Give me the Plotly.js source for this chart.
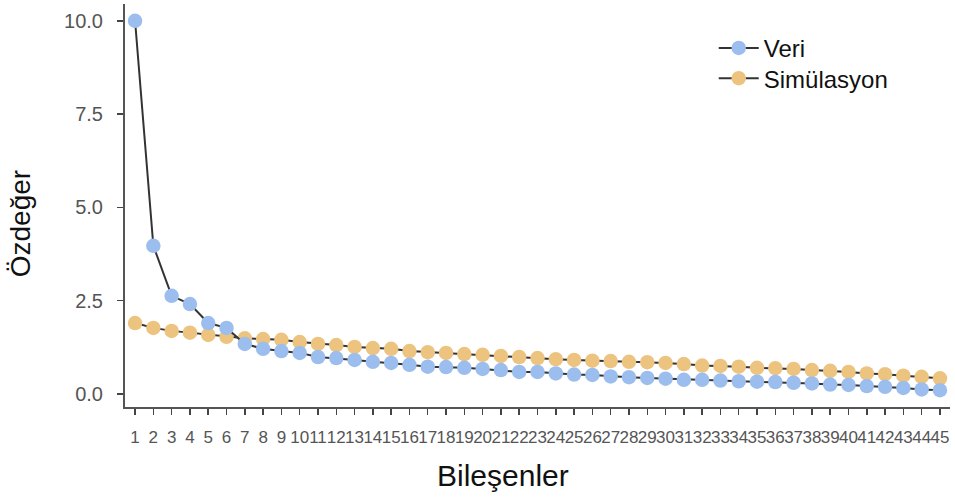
<!DOCTYPE html>
<html>
<head>
<meta charset="utf-8">
<script src="https://cdn.plot.ly/plotly-3.0.1.min.js"></script>
<style>html,body{margin:0;padding:0;background:#fff;}#chart{width:955px;height:497px;}</style>
</head>
<body>
<div id="chart"></div>
<script>
var components = [1,2,3,4,5,6,7,8,9,10,11,12,13,14,15,16,17,18,19,20,21,22,23,24,25,26,27,28,29,30,31,32,33,34,35,36,37,38,39,40,41,42,43,44,45];
var veri = [10.0,3.97,2.63,2.41,1.90,1.77,1.34,1.21,1.15,1.10,0.99,0.96,0.91,0.86,0.83,0.78,0.73,0.72,0.70,0.67,0.64,0.59,0.59,0.55,0.52,0.51,0.47,0.45,0.43,0.41,0.38,0.38,0.36,0.34,0.33,0.32,0.30,0.28,0.25,0.24,0.21,0.19,0.16,0.12,0.10];
var simulasyon = [1.90,1.77,1.69,1.64,1.58,1.53,1.49,1.47,1.45,1.39,1.34,1.31,1.26,1.23,1.21,1.15,1.12,1.10,1.07,1.05,1.02,0.99,0.96,0.93,0.91,0.89,0.88,0.86,0.85,0.83,0.80,0.76,0.75,0.73,0.70,0.69,0.67,0.64,0.62,0.59,0.55,0.53,0.49,0.46,0.42];
var seriesNames = ["Veri", "Simülasyon"];
var axisTitles = ["Bileşenler", "Özdeğer"];

var font = "Liberation Sans, Arial, sans-serif";
var traces = [
  {x: components, y: simulasyon, name: seriesNames[1], type: "scatter", mode: "lines+markers", legend: "legend2",
   line: {color: "#333333", width: 2}, marker: {color: "rgb(236,196,128)", size: 14.5}},
  {x: components, y: veri, name: seriesNames[0], type: "scatter", mode: "lines+markers", legend: "legend",
   line: {color: "#333333", width: 2}, marker: {color: "rgb(156,190,238)", size: 14.5}}
];
var legendFont = {size: 24, color: "#111", family: font};
var layout = {
  width: 955, height: 497,
  margin: {l: 125, r: 5, t: 4, b: 90},
  paper_bgcolor: "#fff", plot_bgcolor: "#fff",
  font: {family: font, color: "#555"},
  showlegend: true,
  legend: {x: 0.7136, y: 0.890, xanchor: "left", yanchor: "middle", itemwidth: 40,
           bgcolor: "rgba(0,0,0,0)", font: legendFont},
  legend2: {x: 0.7136, y: 0.815, xanchor: "left", yanchor: "middle", itemwidth: 40,
           bgcolor: "rgba(0,0,0,0)", font: legendFont},
  xaxis: {
    range: [0.45, 45.55], tickmode: "array", tickvals: components, ticktext: components.map(String),
    tickangle: 0, showgrid: false, zeroline: false,
    showline: true, linecolor: "#555", linewidth: 2,
    ticks: "outside", ticklen: 6, tickwidth: 1.5, tickcolor: "#444",
    ticklabelstandoff: 8,
    tickfont: {size: 17, color: "#555"}
  },
  yaxis: {
    range: [-0.35, 10.45], tickvals: [0, 2.5, 5, 7.5, 10], ticktext: ["0.0", "2.5", "5.0", "7.5", "10.0"],
    showgrid: false, zeroline: false,
    showline: true, linecolor: "#555", linewidth: 2,
    ticks: "outside", ticklen: 6, tickwidth: 1.5, tickcolor: "#444",
    ticklabelstandoff: 10,
    tickfont: {size: 20, color: "#555"}
  },
  annotations: [
    {text: axisTitles[0], xref: "paper", yref: "paper", x: 0.458, y: -0.171, xanchor: "center", yanchor: "middle",
     showarrow: false, font: {size: 30, color: "#111", family: font}},
    {text: axisTitles[1], xref: "paper", yref: "paper", x: -0.127, y: 0.454, xanchor: "center", yanchor: "middle",
     textangle: -90, showarrow: false, font: {size: 28, color: "#111", family: font}}
  ]
};
Plotly.newPlot("chart", traces, layout, {displayModeBar: false, staticPlot: true});
</script>
</body>
</html>
